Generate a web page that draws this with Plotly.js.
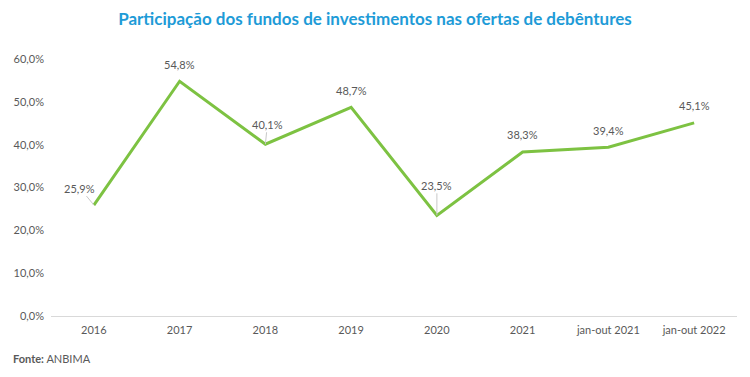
<!DOCTYPE html>
<html><head><meta charset="utf-8">
<script src="https://cdn.plot.ly/plotly-3.0.1.min.js"></script>
<style>body{margin:0;background:#fff}#chart{width:750px;height:377px}</style>
</head><body><div id="chart"></div>
<script>
const categories = ["2016","2017","2018","2019","2020","2021","jan-out 2021","jan-out 2022"];
const values = [25.9, 54.8, 40.1, 48.7, 23.5, 38.3, 39.4, 45.1];
const yTicks = [0, 10, 20, 30, 40, 50, 60];

// label placement (pixels offset from point) and whether a leader line is shown
const labelDX = [-14, 0, 2, 0, 0, 0, 0, 0];
const labelDY = [-17, -17, -20, -17, -30, -17, -17, -17];
const leader = [true, false, true, false, true, false, false, false];

const fmt = v => v.toFixed(1).replace('.', ',') + '%';
const FONT = 'Lato, "Open Sans", sans-serif';

const annotations = categories.map((c, i) => ({
  x: i, y: values[i], xref: 'x', yref: 'y',
  text: fmt(values[i]),
  showarrow: true, arrowhead: 0, arrowwidth: 1,
  arrowcolor: leader[i] ? '#c8c8c8' : 'rgba(0,0,0,0)',
  ax: labelDX[i], ay: labelDY[i], standoff: 0,
  font: {family: FONT, size: 11, color: '#595959'}
}));
annotations.push({
  xref: 'paper', yref: 'paper', x: -0.058, y: -0.165, xanchor: 'left', yanchor: 'middle',
  showarrow: false, align: 'left',
  text: '<b>Fonte:</b> ANBIMA',
  font: {family: FONT, size: 11, color: '#595959'}
});

const trace = {
  x: categories, y: values, type: 'scatter', mode: 'lines',
  line: {color: '#7dc242', width: 3}, hoverinfo: 'skip'
};

const layout = {
  width: 750, height: 377,
  margin: {l: 51, r: 13, t: 59, b: 61},
  paper_bgcolor: '#fff', plot_bgcolor: '#fff',
  separators: ', ',
  title: {text: '<b>Participação dos fundos de investimentos nas ofertas de debêntures</b>',
          x: 0.5, xanchor: 'center', y: 0.95, yanchor: 'middle',
          font: {family: FONT, size: 17, color: '#1e9bd7'}},
  xaxis: {type: 'category', range: [-0.5, 7.5], showgrid: false, zeroline: false,
          showline: true, linecolor: '#d9d9d9', linewidth: 1, ticks: '',
          tickfont: {family: FONT, size: 11, color: '#595959'}, ticklabelstandoff: 4},
  yaxis: {range: [0, 60], tickvals: yTicks, ticktext: yTicks.map(v => v.toFixed(1).replace('.', ',') + '%'),
          showgrid: false, zeroline: false, showline: false, ticks: '',
          tickfont: {family: FONT, size: 11, color: '#595959'}, ticklabelstandoff: 6},
  annotations: annotations,
  showlegend: false
};

Plotly.newPlot('chart', [trace], layout, {displayModeBar: false, staticPlot: true});
</script></body></html>
